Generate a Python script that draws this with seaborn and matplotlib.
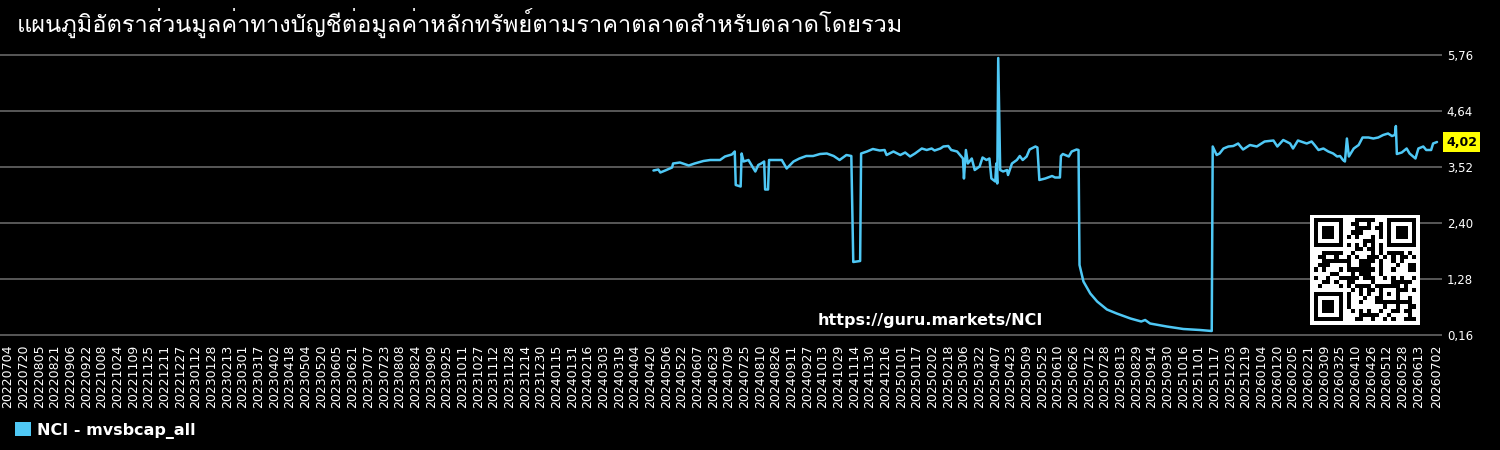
import numpy as np
import pandas as pd
import matplotlib

matplotlib.use("Agg")
import matplotlib.pyplot as plt
import matplotlib.ticker as mtick
from matplotlib import font_manager
from matplotlib.ft2font import FT2Font
from matplotlib.patches import Patch
import seaborn as sns

# title is Thai; "\u0e4d\u0e32" keeps the decomposed sara am like the source
title = "แผนภูมิอัตราส่วนมูลค่าทางบัญชีต่อมูลค่าหลักทรัพย์ตามราคาตลาดส\u0e4d\u0e32หรับตลาดโดยรวม"
series_name = "NCI - mvsbcap_all"
watermark = "https://guru.markets/NCI"

axis_start = "2022-07-04"
axis_end = "2026-07-02"

dates = [
    "2024-04-23", "2024-04-28", "2024-04-30", "2024-05-05", "2024-05-12", "2024-05-13",
    "2024-05-20", "2024-05-29", "2024-06-04", "2024-06-13", "2024-06-20", "2024-06-30",
    "2024-07-05", "2024-07-12", "2024-07-15", "2024-07-16", "2024-07-21", "2024-07-22",
    "2024-07-24", "2024-07-29", "2024-08-05", "2024-08-08", "2024-08-11", "2024-08-14",
    "2024-08-15", "2024-08-18", "2024-08-19", "2024-08-23", "2024-09-01", "2024-09-06",
    "2024-09-13", "2024-09-19", "2024-09-26", "2024-10-03", "2024-10-10", "2024-10-17",
    "2024-10-24", "2024-10-30", "2024-11-06", "2024-11-11", "2024-11-13", "2024-11-20",
    "2024-11-21", "2024-11-27", "2024-12-03", "2024-12-10", "2024-12-15", "2024-12-17",
    "2024-12-24", "2024-12-31", "2025-01-05", "2025-01-10", "2025-01-15", "2025-01-22",
    "2025-01-27", "2025-02-01", "2025-02-04", "2025-02-10", "2025-02-13", "2025-02-18",
    "2025-02-21", "2025-02-27", "2025-03-02", "2025-03-05", "2025-03-06", "2025-03-08",
    "2025-03-10", "2025-03-14", "2025-03-17", "2025-03-22", "2025-03-25", "2025-03-29",
    "2025-04-01", "2025-04-03", "2025-04-07", "2025-04-08", "2025-04-09", "2025-04-10",
    "2025-04-12", "2025-04-15", "2025-04-19", "2025-04-20", "2025-04-24", "2025-04-29",
    "2025-05-02", "2025-05-05", "2025-05-09", "2025-05-12", "2025-05-18", "2025-05-20",
    "2025-05-22", "2025-05-28", "2025-06-04", "2025-06-07", "2025-06-12", "2025-06-13",
    "2025-06-15", "2025-06-21", "2025-06-24", "2025-06-29", "2025-07-01", "2025-07-02",
    "2025-07-06", "2025-07-13", "2025-07-20", "2025-07-30", "2025-08-09", "2025-08-23",
    "2025-09-03", "2025-09-07", "2025-09-12", "2025-09-29", "2025-10-16", "2025-11-02",
    "2025-11-14", "2025-11-15", "2025-11-19", "2025-11-22", "2025-11-26", "2025-12-01",
    "2025-12-06", "2025-12-11", "2025-12-13", "2025-12-16", "2025-12-23", "2025-12-30",
    "2026-01-07", "2026-01-16", "2026-01-20", "2026-01-26", "2026-02-02", "2026-02-05",
    "2026-02-10", "2026-02-19", "2026-02-24", "2026-02-27", "2026-03-03", "2026-03-08",
    "2026-03-13", "2026-03-18", "2026-03-22", "2026-03-25", "2026-03-28", "2026-03-30",
    "2026-04-01", "2026-04-03", "2026-04-08", "2026-04-13", "2026-04-17", "2026-04-23",
    "2026-04-28", "2026-05-03", "2026-05-08", "2026-05-13", "2026-05-17", "2026-05-20",
    "2026-05-21", "2026-05-22", "2026-05-27", "2026-06-01", "2026-06-04", "2026-06-10",
    "2026-06-13", "2026-06-18", "2026-06-21", "2026-06-26", "2026-06-28", "2026-07-02",
]

values = [
    3.45, 3.47, 3.41, 3.45, 3.51, 3.59,
    3.61, 3.55, 3.59, 3.64, 3.66, 3.66,
    3.73, 3.77, 3.83, 3.16, 3.13, 3.79,
    3.63, 3.66, 3.43, 3.56, 3.59, 3.63,
    3.07, 3.07, 3.66, 3.66, 3.66, 3.49,
    3.63, 3.69, 3.74, 3.74, 3.78, 3.79,
    3.74, 3.66, 3.76, 3.74, 1.62, 1.64,
    3.79, 3.83, 3.88, 3.85, 3.86, 3.76,
    3.83, 3.76, 3.81, 3.73, 3.79, 3.89,
    3.86, 3.89, 3.85, 3.89, 3.93, 3.94,
    3.86, 3.83, 3.76, 3.69, 3.29, 3.86,
    3.59, 3.69, 3.46, 3.53, 3.71, 3.66,
    3.69, 3.29, 3.23, 3.59, 3.19, 5.70,
    3.46, 3.43, 3.46, 3.36, 3.59, 3.66,
    3.74, 3.66, 3.73, 3.87, 3.93, 3.91,
    3.26, 3.29, 3.34, 3.31, 3.31, 3.74,
    3.78, 3.73, 3.83, 3.87, 3.86, 1.56,
    1.23, 0.99, 0.83, 0.67, 0.59, 0.49,
    0.43, 0.46, 0.39, 0.33, 0.28, 0.26,
    0.24, 3.93, 3.76, 3.79, 3.89, 3.93,
    3.94, 3.99, 3.94, 3.87, 3.96, 3.93,
    4.03, 4.05, 3.93, 4.06, 3.99, 3.89,
    4.05, 3.99, 4.03, 3.96, 3.86, 3.89,
    3.83, 3.79, 3.73, 3.74, 3.66, 3.63,
    4.09, 3.73, 3.89, 3.96, 4.11, 4.11,
    4.09, 4.11, 4.16, 4.19, 4.14, 4.16,
    4.34, 3.78, 3.81, 3.89, 3.79, 3.69,
    3.89, 3.93, 3.86, 3.86, 3.99, 4.02,
]

y_ticks = [0.16, 1.28, 2.40, 3.52, 4.64, 5.76]

line_color = "#4fc8f5"


def families_with(chars):
    # installed families whose cmap covers every char
    found = []
    seen = set()
    for f in font_manager.fontManager.ttflist:
        if f.fname in seen:
            continue
        seen.add(f.fname)
        try:
            cmap = FT2Font(f.fname).get_charmap()
        except Exception:
            continue
        if all(ord(c) in cmap for c in chars) and f.name not in found:
            found.append(f.name)
    return found


def qr_like(n=25, text=watermark):
    # decorative QR-style block built from the url bits
    bits = "".join(f"{ord(c):08b}" for c in text)
    m = np.zeros((n, n), dtype=int)
    k = 0
    for r in range(n):
        for c in range(n):
            m[r, c] = int(bits[(k * 7) % len(bits)]) ^ int((r + c) % 3 == 0)
            k += 1
    for r0, c0 in [(0, 0), (0, n - 7), (n - 7, 0)]:
        rs, cs = max(r0 - 1, 0), max(c0 - 1, 0)
        m[rs:r0 + 8, cs:c0 + 8] = 0
        m[r0:r0 + 7, c0:c0 + 7] = 1
        m[r0 + 1:r0 + 6, c0 + 1:c0 + 6] = 0
        m[r0 + 2:r0 + 5, c0 + 2:c0 + 5] = 1
    for i in range(8, n - 8):
        m[6, i] = (i + 1) % 2
        m[i, 6] = (i + 1) % 2
    a = n - 7
    m[a - 2:a + 3, a - 2:a + 3] = 1
    m[a - 1:a + 2, a - 1:a + 2] = 0
    m[a, a] = 1
    return np.pad(m, 1)


sns.set_theme(
    style="dark",
    rc={
        "figure.facecolor": "black",
        "axes.facecolor": "black",
        "text.color": "white",
        "xtick.color": "white",
        "ytick.color": "white",
        "grid.color": "#5f5f5f",
    },
)
plt.rcParams["font.family"] = ["DejaVu Sans"]

thai_fams = families_with(set(title))
title_family = thai_fams[:1] + ["DejaVu Sans"]

fig = plt.figure(figsize=(15, 4.5), dpi=100)
ax = fig.add_axes([0.0, 1 - 340 / 450, 1442 / 1500, 290 / 450])

df = pd.DataFrame({"date": pd.to_datetime(dates), "value": values})
sns.lineplot(data=df, x="date", y="value", ax=ax, color=line_color,
             linewidth=1.8, estimator=None)

t0, t1 = pd.Timestamp(axis_start), pd.Timestamp(axis_end)
ax.set_xlim(t0 - pd.Timedelta(days=8.2), t1 + pd.Timedelta(days=5.1))
ax.set_ylim(0.06, 5.86)

ticks = list(pd.date_range(t0, t1, freq="16D"))
if (t1 - ticks[-1]).days < 16:
    ticks = ticks[:-1]
ticks.append(t1)
ax.set_xticks(ticks)
ax.set_xticklabels([t.strftime("%Y%m%d") for t in ticks], rotation=90, fontsize=9)

ax.yaxis.tick_right()
ax.set_yticks(y_ticks)
ax.yaxis.set_major_formatter(mtick.FuncFormatter(lambda v, _: f"{v:.2f}".replace(".", ",")))
ax.tick_params(axis="y", length=0, pad=3.5, labelsize=8.5)
ax.tick_params(axis="x", length=0, pad=3.5)
ax.grid(axis="y", color="#5f5f5f", linewidth=1.3)
ax.grid(axis="x", visible=False)
ax.set_xlabel("")
ax.set_ylabel("")
for s in ax.spines.values():
    s.set_visible(False)

last = values[-1]
ax.annotate(f"{last:.2f}".replace(".", ","), xy=(1, last),
            xycoords=("axes fraction", "data"), xytext=(3, 0),
            textcoords="offset points", ha="left", va="center",
            fontsize=9, fontweight="bold", color="black",
            bbox=dict(boxstyle="square,pad=0.25", fc="#ffff00", ec="none"))

fig.text(17 / 1500, 1 - 23 / 450, title, fontsize=17 if thai_fams else 22.8,
         color="white", ha="left", va="center", family=title_family)

fig.text(930 / 1500, 1 - 320 / 450, watermark, fontsize=11.5, fontweight="bold",
         color="white", ha="center", va="center")

qax = fig.add_axes([1310 / 1500, 1 - 325 / 450, 110 / 1500, 110 / 450])
qax.imshow(qr_like(), cmap="gray_r", interpolation="nearest", aspect="auto")
qax.set_axis_off()

fig.legend(handles=[Patch(facecolor=line_color, edgecolor="none", label=series_name)],
           loc="lower left", bbox_to_anchor=(0.0007, -0.0067), frameon=False,
           handlelength=0.95, handleheight=0.95, handletextpad=0.4,
           prop={"weight": "bold", "size": 11.5}, labelcolor="white")

fig.savefig("out.png", dpi=100, facecolor="black")
